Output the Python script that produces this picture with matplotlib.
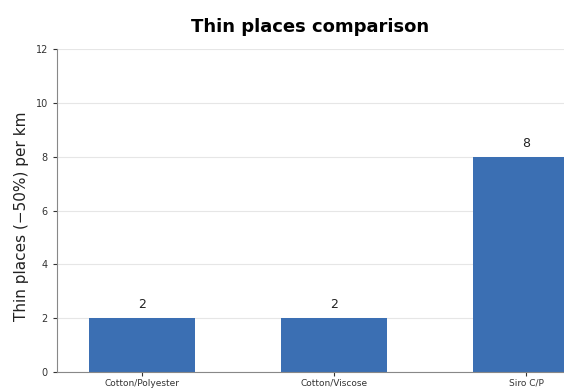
import matplotlib.pyplot as plt

categories = ["Cotton/Polyester", "Cotton/Viscose", "Siro C/P"]
thin_places = [2, 2, 8]

fig = plt.figure(figsize=(5.64, 3.92), dpi=100)
ax = fig.add_axes([0.101, 0.051, 0.899, 0.824])

x = range(len(categories))
bars = ax.bar(x, thin_places, width=0.55, color="#3b6fb3", zorder=2)
for b, v in zip(bars, thin_places):
    ax.text(b.get_x() + b.get_width() / 2, v + 0.25, str(v),
            ha="center", va="bottom", fontsize=9, color="#222222")

ax.set_xticks(list(x))
ax.set_xticklabels(categories, fontsize=6.5)
ax.set_xlim(-0.443, 2.198)
ax.set_ylim(0, 12)
ax.set_yticks(range(0, 13, 2))
ax.tick_params(axis="y", labelsize=7, colors="#333333", length=3)
ax.tick_params(axis="x", length=3, pad=2, colors="#333333")
ax.grid(axis="y", color="#e6e6e6", linewidth=0.8, zorder=0)
ax.spines["top"].set_visible(False)
ax.spines["right"].set_visible(False)
ax.spines["left"].set_color("#888888")
ax.spines["bottom"].set_color("#888888")

ax.set_ylabel("Thin places (\u221250%) per km", fontsize=11, color="#222222")
ax.yaxis.set_label_coords(-0.055, 0.483)
ax.set_title("Thin places comparison", fontsize=13, fontweight="bold", pad=12)

fig.savefig("out.png", dpi=100)
